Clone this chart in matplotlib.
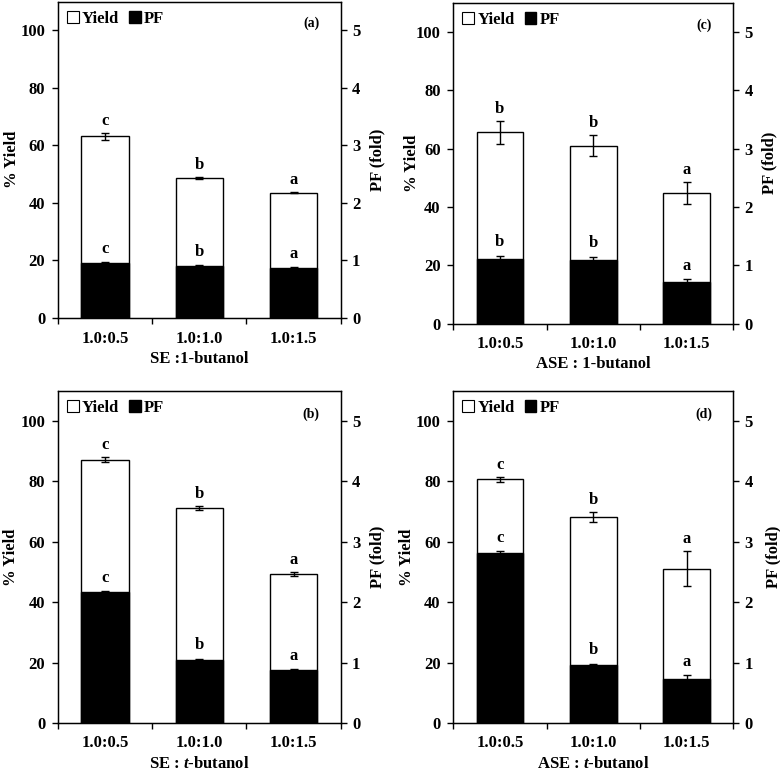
import matplotlib
matplotlib.use('Agg')
import matplotlib.pyplot as plt
from matplotlib.patches import Patch

plt.rcParams['font.family'] = ['Liberation Serif', 'DejaVu Serif']
plt.rcParams['font.weight'] = 'bold'
plt.rcParams['axes.labelweight'] = 'bold'
plt.rcParams['font.size'] = 12
plt.rcParams['mathtext.fontset'] = 'custom'
plt.rcParams['mathtext.rm'] = 'Liberation Serif:bold'
plt.rcParams['mathtext.it'] = 'Liberation Serif:italic:bold'

# data
kategorier = ['1.0:0.5', '1.0:1.0', '1.0:1.5']

yield_a = [63.1, 48.7, 43.6]
yield_a_err = [1.2, 0.4, 0.3]
pf_a = [0.95, 0.91, 0.87]
pf_a_err = [0.02, 0.01, 0.01]
yield_a_bokst = ['c', 'b', 'a']
pf_a_bokst = ['c', 'b', 'a']

yield_c = [65.6, 61.0, 44.8]
yield_c_err = [3.9, 3.6, 3.8]
pf_c = [1.11, 1.10, 0.71]
pf_c_err = [0.06, 0.05, 0.055]
yield_c_bokst = ['b', 'b', 'a']
pf_c_bokst = ['b', 'b', 'a']

yield_b = [87.1, 71.2, 49.3]
yield_b_err = [0.8, 0.6, 0.7]
pf_b = [2.17, 1.05, 0.88]
pf_b_err = [0.01, 0.01, 0.01]
yield_b_bokst = ['c', 'b', 'a']
pf_b_bokst = ['c', 'b', 'a']

yield_d = [80.7, 68.2, 51.1]
yield_d_err = [0.8, 1.7, 5.7]
pf_d = [2.82, 0.96, 0.72]
pf_d_err = [0.02, 0.02, 0.07]
yield_d_bokst = ['c', 'b', 'a']
pf_d_bokst = ['c', 'b', 'a']

# (merke, x-tekst, yield, err, pf, err, bokstaver, bokstaver, akse-posisjon, ylabel-x venstre/hoyre)
paneler = [
    ('(a)', 'SE :1-butanol', yield_a, yield_a_err, pf_a, pf_a_err, yield_a_bokst, pf_a_bokst,
     [0.074, 0.5875, 0.363, 0.4105], -0.134, 1.102),
    ('(c)', 'ASE : 1-butanol', yield_c, yield_c_err, pf_c, pf_c_err, yield_c_bokst, pf_c_bokst,
     [0.581, 0.580, 0.359, 0.4165], -0.118, 1.10),
    ('(b)', r'SE : $\it{t}$-butanol', yield_b, yield_b_err, pf_b, pf_b_err, yield_b_bokst, pf_b_bokst,
     [0.074, 0.0623, 0.363, 0.431], -0.137, 1.102),
    ('(d)', r'ASE : $\it{t}$-butanol', yield_d, yield_d_err, pf_d, pf_d_err, yield_d_bokst, pf_d_bokst,
     [0.581, 0.0623, 0.359, 0.431], -0.135, 1.114),
]

fig = plt.figure(figsize=(7.8, 7.71), dpi=100)

for merke, xtekst, ys, ys_err, pfs, pfs_err, yb, pb, pos, lx, rx in paneler:
    ax = fig.add_axes(pos)
    ax2 = ax.twinx()
    x = range(len(kategorier))

    ax.bar(x, ys, width=0.5, color='white', edgecolor='black', linewidth=1.0, zorder=2)
    ax.errorbar(x, ys, yerr=ys_err, fmt='none', ecolor='black', elinewidth=1, capsize=3, zorder=3)
    for i in x:
        ax.annotate(yb[i], (i, ys[i] + ys_err[i]), xytext=(0, 3), textcoords='offset points',
                    ha='center', va='bottom', fontsize=12)

    ax2.bar(x, pfs, width=0.5, color='black', edgecolor='black', linewidth=1.0, zorder=2)
    ax2.errorbar(x, pfs, yerr=pfs_err, fmt='none', ecolor='black', elinewidth=1, capsize=3, zorder=3)
    for i in x:
        ax2.annotate(pb[i], (i, pfs[i] + pfs_err[i]), xytext=(0, 4), textcoords='offset points',
                     ha='center', va='bottom', fontsize=12)

    ax.set_xlim(-0.5, 2.5)
    ax.set_ylim(0, 110)
    ax2.set_ylim(0, 5.5)
    ax.set_yticks([0, 20, 40, 60, 80, 100])
    ax2.set_yticks([0, 1, 2, 3, 4, 5])
    ax.set_xticks(list(x))
    ax.set_xticklabels(kategorier)
    ax.set_xticks([-0.5, 0.5, 1.5, 2.5], minor=True)
    ax.tick_params(axis='x', which='major', length=0, pad=9)
    ax.tick_params(axis='x', which='minor', length=4, width=1, direction='out')
    ax.tick_params(axis='y', length=4, width=1, direction='out', pad=5)
    ax2.tick_params(axis='y', length=4, width=1, direction='out', pad=4)

    ax.set_ylabel('% Yield')
    ax.yaxis.set_label_coords(lx, 0.5)
    ax2.set_ylabel('PF (fold)')
    ax2.yaxis.set_label_coords(rx, 0.5)
    ax.set_xlabel(xtekst, labelpad=3)

    for s in ax.spines.values():
        s.set_linewidth(1.0)

    ax2.text(0.895, 0.93, merke, transform=ax2.transAxes, ha='center', va='center', fontsize=10)

    handles = [Patch(facecolor='white', edgecolor='black', linewidth=0.8, label='Yield'),
               Patch(facecolor='black', edgecolor='black', label='PF')]
    ax2.legend(handles=handles, loc='upper left', ncol=2, frameon=False, handlelength=0.7,
               handleheight=0.7, handletextpad=0.2, columnspacing=0.6, borderaxespad=0.15,
               fontsize=12)

fig.savefig('out.png', dpi=100)
